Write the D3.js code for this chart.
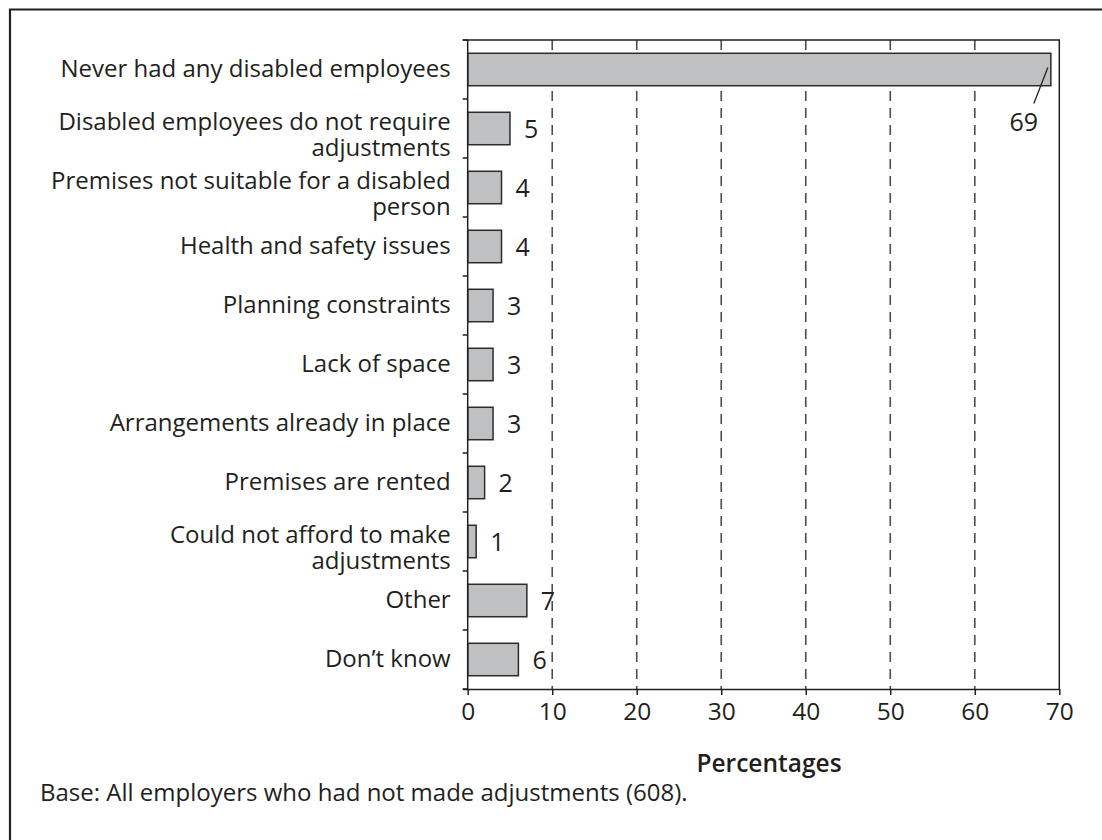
<!DOCTYPE html>
<html>
<head>
<meta charset="utf-8">
<script src="https://cdn.jsdelivr.net/npm/d3@7"></script>
<style>
  html, body { margin: 0; padding: 0; background: #fff; }
  svg { display: block; font-family: "Open Sans", "Noto Sans", sans-serif; }
</style>
</head>
<body>
<svg id="chart" width="1102" height="840"></svg>
<script>
// Reasons employers gave for not making adjustments (percentages)
const categories = [
  "Never had any disabled employees",
  "Disabled employees do not require|adjustments",
  "Premises not suitable for a disabled|person",
  "Health and safety issues",
  "Planning constraints",
  "Lack of space",
  "Arrangements already in place",
  "Premises are rented",
  "Could not afford to make|adjustments",
  "Other",
  "Don\u2019t know"
];
const values = [69, 5, 4, 4, 3, 3, 3, 2, 1, 7, 6];
const xTicks = [0, 10, 20, 30, 40, 50, 60, 70];
const xTitle = "Percentages";
const footnote = "Base: All employers who had not made adjustments (608).";

const svg = d3.select("#chart");
const ink = "#231f20";

const plotLeft = 467.7, plotRight = 1059.3, plotTop = 40, plotBottom = 689;

const x = d3.scaleLinear().domain([0, 70]).range([plotLeft, plotRight]);
const y = d3.scaleBand().domain(categories).range([plotTop, plotBottom])
  .paddingInner(0.45).paddingOuter(0.225);
const step = y.step();
const bandStart = c => plotTop + categories.indexOf(c) * step;
const bandMid = c => bandStart(c) + step / 2;

// outer frame (top and left edges)
svg.append("path")
  .attr("d", "M10,840 V9.5 H1102")
  .attr("fill", "none").attr("stroke", ink).attr("stroke-width", 2.2);

// dashed vertical gridlines
svg.append("g").selectAll("line")
  .data(xTicks.filter(t => t > 0 && t < 70))
  .join("line")
  .attr("x1", d => x(d)).attr("x2", d => x(d))
  .attr("y1", plotTop).attr("y2", plotBottom)
  .attr("stroke", "#4d4d4d").attr("stroke-width", 1.6)
  .attr("stroke-dasharray", "10,7");

// plot frame: top and right edges
svg.append("path")
  .attr("d", `M${plotLeft - 5},${plotTop} H${plotRight} V${plotBottom}`)
  .attr("fill", "none").attr("stroke", ink).attr("stroke-width", 1.5);

// bars
svg.append("g").selectAll("rect")
  .data(categories)
  .join("rect")
  .attr("x", x(0))
  .attr("y", d => y(d))
  .attr("width", (d, i) => x(values[i]) - x(0))
  .attr("height", y.bandwidth())
  .attr("fill", "#bfc0c1")
  .attr("stroke", "#2b2b2b").attr("stroke-width", 1.5);

// y axis line with ticks at band boundaries
const yAxis = svg.append("g");
yAxis.append("line")
  .attr("x1", plotLeft).attr("x2", plotLeft).attr("y1", plotTop).attr("y2", plotBottom)
  .attr("stroke", ink).attr("stroke-width", 1.5);
yAxis.selectAll("line.tick")
  .data(d3.range(categories.length + 1))
  .join("line").attr("class", "tick")
  .attr("x1", plotLeft - 5).attr("x2", plotLeft)
  .attr("y1", i => plotTop + i * step).attr("y2", i => plotTop + i * step)
  .attr("stroke", ink).attr("stroke-width", 1.5);

// x axis
const xAxis = d3.axisBottom(x).tickValues(xTicks).tickSize(6).tickPadding(8).tickSizeOuter(0);
const gx = svg.append("g").attr("transform", `translate(0,${plotBottom})`).call(xAxis);
gx.select(".domain").attr("stroke", ink).attr("stroke-width", 1.5)
  .attr("d", `M${plotLeft - 5},0.5H${plotRight}`);
gx.selectAll(".tick line").attr("stroke", ink).attr("stroke-width", 1.5);
gx.selectAll(".tick text")
  .attr("fill", ink).attr("font-size", 24.5)
  .attr("font-family", "'Open Sans', sans-serif");

// category labels
const labels = svg.append("g").attr("fill", ink).attr("font-size", 24).attr("text-anchor", "end");
categories.forEach(c => {
  const lines = c.split("|");
  if (lines.length === 1) {
    labels.append("text").attr("x", plotLeft - 17)
      .attr("y", bandMid(c) + 7.5).text(lines[0]);
  } else {
    lines.forEach((ln, k) => {
      labels.append("text").attr("x", plotLeft - 17)
        .attr("y", bandMid(c) + 1.5 + k * 26).text(ln);
    });
  }
});

// value labels
const vals = svg.append("g").attr("fill", ink).attr("font-size", 25);
categories.forEach((c, i) => {
  const v = values[i];
  const cy = y(c) + y.bandwidth() / 2;
  if (x(v) + 40 > plotRight) {
    // long bar: label placed below with a leader line
    vals.append("line")
      .attr("x1", x(v) - 3).attr("y1", cy - 2)
      .attr("x2", x(v) - 17).attr("y2", cy + 34)
      .attr("stroke", ink).attr("stroke-width", 1.3);
    vals.append("text").attr("x", x(v) - 27).attr("y", cy + 61)
      .attr("text-anchor", "middle").text(v);
  } else {
    vals.append("text").attr("x", x(v) + 14).attr("y", cy + 9).text(v);
  }
});

// axis title
svg.append("text")
  .attr("x", 769).attr("y", 772)
  .attr("text-anchor", "middle").attr("fill", ink)
  .attr("font-size", 24.5).attr("font-weight", 600)
  .text(xTitle);

// footnote
svg.append("text")
  .attr("x", 40).attr("y", 801)
  .attr("fill", ink).attr("font-size", 24)
  .text(footnote);
</script>
</body>
</html>
